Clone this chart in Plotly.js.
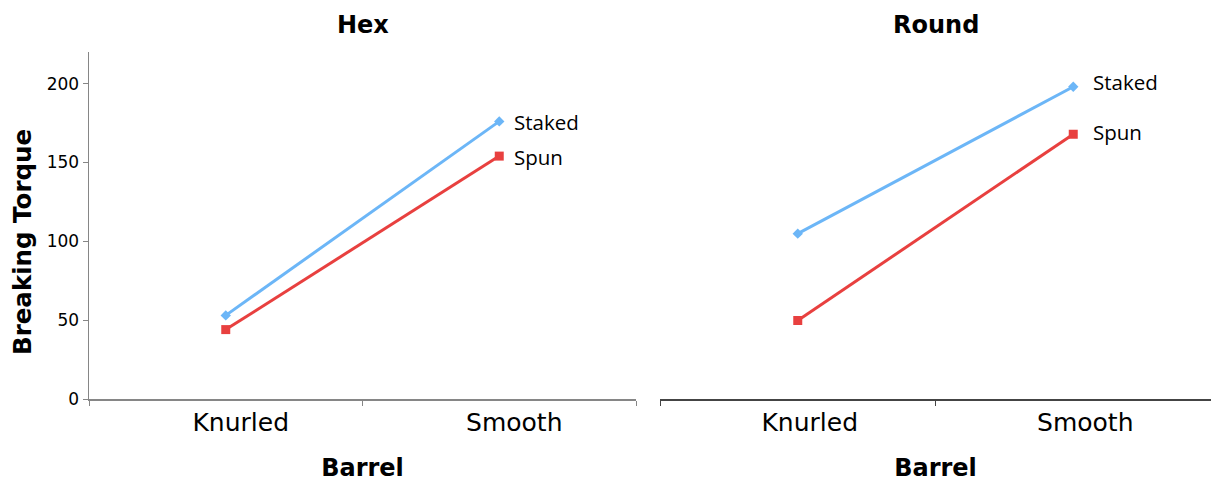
<!DOCTYPE html>
<html><head><meta charset="utf-8">
<script src="https://cdn.plot.ly/plotly-3.0.1.min.js"></script>
<style>html,body{margin:0;padding:0;background:#fff}#chart{width:1211px;height:482px}</style>
</head><body><div id="chart"></div>
<script>
const categories = ['Knurled', 'Smooth'];
const panels = ['Hex', 'Round'];
const hexStaked = [53, 176];
const hexSpun = [44, 154];
const roundStaked = [105, 198];
const roundSpun = [50, 168];
const yTicks = [0, 50, 100, 150, 200];

const blue = '#6cb6f7', red = '#e8403f';
function tr(y, name, color, sym, size, xa, ya) {
  return {x: categories, y: y, name: name, type: 'scatter', mode: 'lines+markers',
    line: {color: color, width: 3}, marker: {color: color, symbol: sym, size: size},
    xaxis: xa, yaxis: ya, showlegend: false, hoverinfo: 'skip'};
}
const data = [
  tr(hexStaked, 'Staked', blue, 'diamond', 8, 'x', 'y'),
  tr(hexSpun, 'Spun', red, 'square', 9, 'x', 'y'),
  tr(roundStaked, 'Staked', blue, 'diamond', 8, 'x2', 'y2'),
  tr(roundSpun, 'Spun', red, 'square', 9, 'x2', 'y2')
];
function endLabel(text, y, xr, yr, xs, ys) {
  return {text: text, x: categories[1], y: y[1], xref: xr, yref: yr, xanchor: 'left', yanchor: 'middle',
    xshift: xs, yshift: ys, showarrow: false, font: {family: 'Open Sans, Noto Sans, sans-serif', size: 20.5, color: '#000'}};
}
const bold = {family: 'DejaVu Sans, Verdana, sans-serif', size: 24, color: '#000', weight: 'bold'};
const xax = (dom, lc, shift) => ({domain: dom, type: 'category', range: [-0.5, 1.5], showline: true, linecolor: lc, linewidth: 1.5,
  ticks: 'outside', tickson: 'boundaries', ticklen: 5, tickcolor: lc, showgrid: false, zeroline: false,
  tickfont: {family: 'DejaVu Sans, Verdana, sans-serif', size: 25, color: '#000'}, ticklabelshift: shift, ticklabelstandoff: 0,
  title: {text: 'Barrel', font: bold, standoff: 27}, fixedrange: true});
const layout = {
  width: 1211, height: 482, margin: {l: 0, r: 0, t: 0, b: 0}, paper_bgcolor: '#fff', plot_bgcolor: '#fff',
  xaxis: xax([89/1211, 636/1211], '#868686', 15),
  xaxis2: xax([660/1211, 1], '#444', 12),
  yaxis: {domain: [1 - 399/482, 1 - 52/482], range: [0, 220], tickvals: yTicks, showline: true, linecolor: '#868686', linewidth: 1.5,
    ticks: 'outside', ticklen: 5, tickcolor: '#868686', showgrid: false, zeroline: false,
    tickfont: {family: 'DejaVu Sans, Verdana, sans-serif', size: 17, color: '#000'}, fixedrange: true},
  yaxis2: {domain: [1 - 399.5/482, 1 - 52/482], range: [0, 220], anchor: 'x2', visible: false, showgrid: false, zeroline: false},
  annotations: [
    {text: panels[0], x: 0.5, y: 1, xref: 'x domain', yref: 'paper', yanchor: 'top', yshift: -9, showarrow: false, font: bold},
    {text: panels[1], x: 0.5, y: 1, xref: 'x2 domain', yref: 'paper', yanchor: 'top', yshift: -9, showarrow: false, font: bold},
    {text: 'Breaking Torque', x: 22/1211, y: 1 - 242/482, xref: 'paper', yref: 'paper', xanchor: 'center', yanchor: 'middle',
     textangle: -90, showarrow: false, font: Object.assign({}, bold, {size: 24.5})},
    endLabel('Staked', hexStaked, 'x', 'y', 13, -1),
    endLabel('Spun', hexSpun, 'x', 'y', 13, -1),
    endLabel('Staked', roundStaked, 'x2', 'y2', 18, 5),
    endLabel('Spun', roundSpun, 'x2', 'y2', 18, 2)
  ]
};
Plotly.newPlot('chart', data, layout, {staticPlot: true, displayModeBar: false});
</script></body></html>
